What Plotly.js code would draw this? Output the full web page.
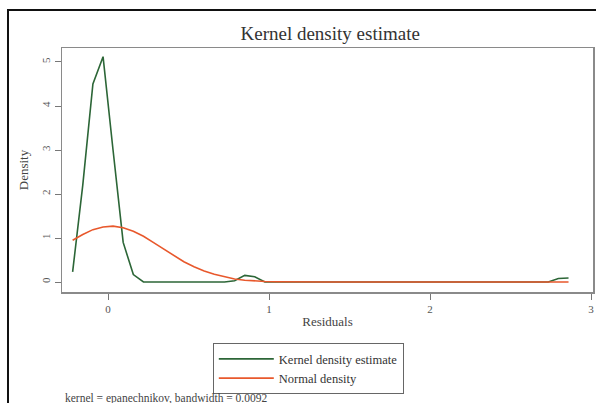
<!DOCTYPE html>
<html>
<head>
<meta charset="utf-8">
<script src="https://cdn.plot.ly/plotly-3.0.1.min.js"></script>
<style>html,body{margin:0;padding:0;background:#fff;}#chart{width:596px;height:403px;}</style>
</head>
<body>
<div id="chart"></div>
<script>
// Evaluation grid (residuals)
const gridX = [-0.220,-0.157,-0.094,-0.031,0.031,0.094,0.157,0.220,0.283,0.346,
  0.409,0.471,0.534,0.597,0.660,0.723,0.786,0.849,0.911,0.974,
  1.037,1.100,1.163,1.226,1.289,1.351,1.414,1.477,1.540,1.603,
  1.666,1.729,1.791,1.854,1.917,1.980,2.043,2.106,2.169,2.231,
  2.294,2.357,2.420,2.483,2.546,2.609,2.671,2.734,2.797,2.860];
// Kernel density estimate
const kdeY = [0.23,2.2,4.5,5.12,3.0,0.9,0.17,0,0,0,
  0,0,0,0,0,0,0.03,0.15,0.12,0,
  0,0,0,0,0,0,0,0,0,0,
  0,0,0,0,0,0,0,0,0,0,
  0,0,0,0,0,0,0,0,0.08,0.09];
// Normal density
const normY = [0.95,1.08,1.19,1.25,1.27,1.235,1.155,1.04,0.895,0.745,
  0.595,0.46,0.345,0.25,0.175,0.115,0.07,0.04,0.023,0.013,
  0.007,0.003,0.002,0.001,0,0,0,0,0,0,
  0,0,0,0,0,0,0,0,0,0,
  0,0,0,0,0,0,0,0,0,0];
const seriesNames = ["Kernel density estimate","Normal density"];
const xTicks = [0,1,2,3];
const yTicks = [0,1,2,3,4,5];
const titleText = "Kernel density estimate";
const xTitle = "Residuals";
const yTitle = "Density";
const note = "kernel = epanechnikov, bandwidth = 0.0092";

const serif = "Liberation Serif";
const traces = [
  {x: gridX, y: kdeY, mode: "lines", name: seriesNames[0], line: {color: "#2c6637", width: 1.6}},
  {x: gridX, y: normY, mode: "lines", name: seriesNames[1], line: {color: "#e8582c", width: 1.6}}
];
const layout = {
  width: 596, height: 403,
  paper_bgcolor: "#fff", plot_bgcolor: "#fff",
  margin: {l: 62, r: 3, t: 48, b: 111},
  showlegend: true,
  title: {text: titleText, x: 0.554, xanchor: "center", y: 0.918, yanchor: "middle",
          font: {family: serif, size: 19, color: "#333"}},
  xaxis: {range: [-0.286, 3.012], tickvals: xTicks, ticks: "outside", ticklen: 6, tickcolor: "#777",
          showgrid: false, zeroline: false, showline: true, linecolor: "#8a8a8a", linewidth: 1.5, mirror: true,
          tickfont: {family: serif, size: 11, color: "#555"},
          title: {text: xTitle, standoff: 3, font: {family: serif, size: 13, color: "#444"}}},
  yaxis: {range: [-0.227, 5.318], tickvals: yTicks, ticks: "outside", ticklen: 6, tickcolor: "#777",
          tickangle: -90, showgrid: false, zeroline: false, showline: true, linecolor: "#8a8a8a", linewidth: 1.5, mirror: true,
          tickfont: {family: serif, size: 11, color: "#555"},
          title: {text: yTitle, standoff: 8, font: {family: serif, size: 13, color: "#444"}}},
  legend: {x: 0.284, xanchor: "left", y: -0.21, yanchor: "top", bordercolor: "#666", borderwidth: 1,
           bgcolor: "#fff", font: {family: serif, size: 12.5, color: "#333"}, tracegroupgap: 0,
           itemwidth: 55},
  shapes: [
    {type: "rect", xref: "paper", yref: "paper", x0: -0.1017, x1: 1.02, y0: -0.5, y1: 1.156,
     line: {color: "#111", width: 2}, fillcolor: "rgba(0,0,0,0)"}
  ],
  annotations: [
    {text: note, xref: "paper", yref: "paper", x: 0.002, y: -0.437, xanchor: "left", yanchor: "middle",
     showarrow: false, font: {family: serif, size: 11.5, color: "#444"}}
  ]
};
Plotly.newPlot("chart", traces, layout, {displayModeBar: false, staticPlot: true});
</script>
</body>
</html>
